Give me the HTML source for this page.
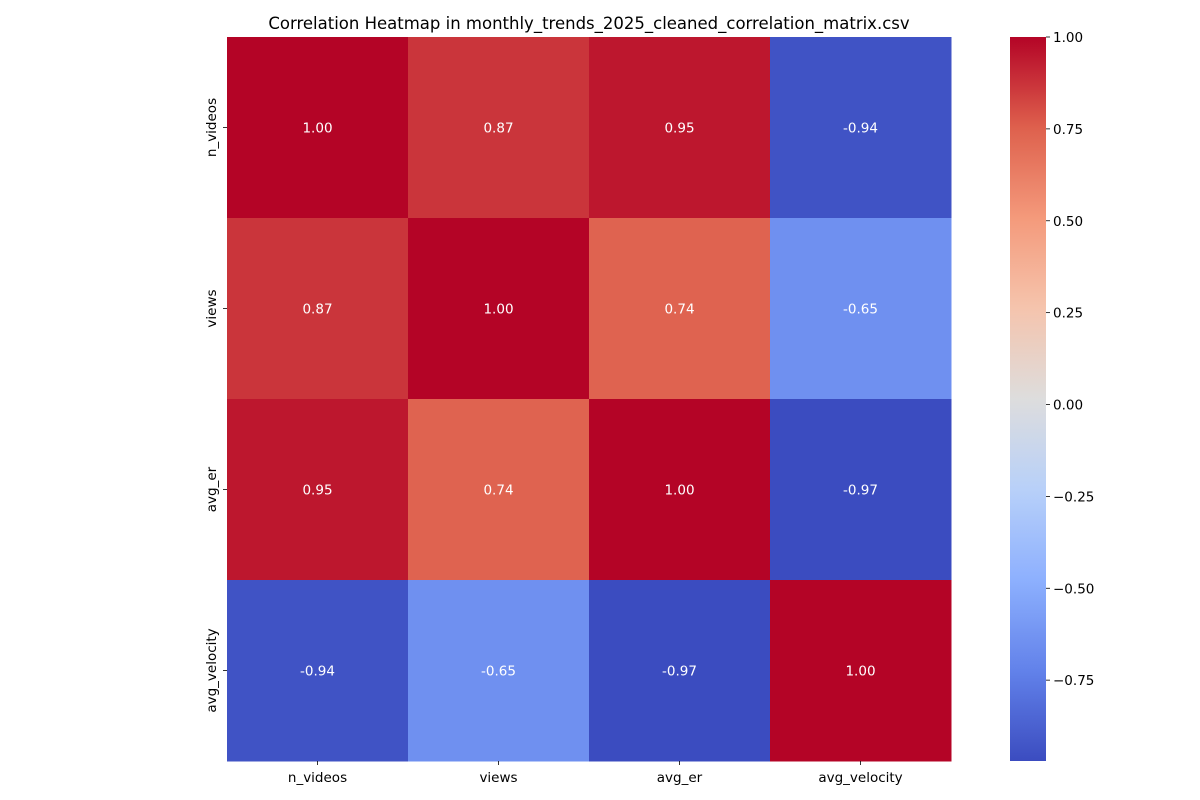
<!DOCTYPE html>
<html><head><meta charset="utf-8">
<style>
html,body{margin:0;padding:0;background:#fff;}
svg{display:block;font-family:"DejaVu Sans","Liberation Sans",sans-serif;}
</style></head>
<body>
<svg id="chart" width="1200" height="800">
<defs><linearGradient id="cbgrad" x1="0" y1="1" x2="0" y2="0"></linearGradient></defs>
<text x="589" y="29" text-anchor="middle" font-size="16.5" fill="#000">Correlation Heatmap in monthly_trends_2025_cleaned_correlation_matrix.csv</text>
<g id="cells"></g>
<g id="xaxis"></g>
<g id="yaxis"></g>
<g id="colorbar"></g>
</svg>
<script>
const labels = ["n_videos","views","avg_er","avg_velocity"];
const row0 = [1.00, 0.87, 0.95, -0.94];
const row1 = [0.87, 1.00, 0.74, -0.65];
const row2 = [0.95, 0.74, 1.00, -0.97];
const row3 = [-0.94, -0.65, -0.97, 1.00];
const matrix = [row0,row1,row2,row3];
const cbTicks = [1.00,0.75,0.50,0.25,0.00,-0.25,-0.50,-0.75];

const NS="http://www.w3.org/2000/svg";
const svg=document.getElementById('chart');
const X0=227,Y0=37,W=724,H=724;
const n=labels.length, cw=W/n, ch=H/n;
const flat=matrix.flat();
const vmin=Math.min(...flat), vmax=Math.max(...flat);
const anchors=[[59,76,192],[98,130,234],[141,176,254],[184,208,249],[221,221,221],[245,196,173],[244,154,123],[222,96,77],[180,4,38]];
function cmap(t){t=Math.max(0,Math.min(1,t));const p=t*8,i=Math.min(7,Math.floor(p)),f=p-i;const a=anchors[i],b=anchors[i+1];
 return 'rgb('+a.map((v,k)=>Math.round(v+(b[k]-v)*f)).join(',')+')';}
function norm(v){return (v-vmin)/(vmax-vmin);}
function mk(tag,attrs,parent){const e=document.createElementNS(NS,tag);for(const k in attrs)e.setAttribute(k,attrs[k]);parent.appendChild(e);return e;}

const cells=document.getElementById('cells');
matrix.forEach((row,r)=>row.forEach((v,c)=>{
  const rect=mk('rect',{x:X0+c*cw,y:Y0+r*ch,width:cw+0.5,height:ch+0.5,fill:cmap(norm(v))},cells);
  
  
  const t=mk('text',{x:X0+(c+0.5)*cw,y:Y0+(r+0.5)*ch+5,'text-anchor':'middle','font-size':'13.5',fill:'#fff'},cells);
  t.textContent=v.toFixed(2);
  
  
}));
const xa=document.getElementById('xaxis'), ya=document.getElementById('yaxis');
labels.forEach((l,i)=>{
  const cx=X0+(i+0.5)*cw;
  mk('line',{x1:cx,x2:cx,y1:Y0+H,y2:Y0+H+4,stroke:'#000','stroke-width':0.8},xa);
  const t=mk('text',{x:cx,y:Y0+H+21,'text-anchor':'middle','font-size':'13.5',fill:'#000'},xa);
  t.textContent=l;
  
  
  const cy=Y0+(i+0.5)*ch;
  mk('line',{x1:X0-4,x2:X0,y1:cy,y2:cy,stroke:'#000','stroke-width':0.8},ya);
  const ty=mk('text',{x:0,y:0,'text-anchor':'middle','font-size':'13.5',fill:'#000',transform:'translate('+(X0-11)+','+cy+') rotate(-90)'},ya);
  ty.textContent=l;
  
  
});
// colorbar
const CX=1010,CW=36;
const grad=document.getElementById('cbgrad');
for(let i=0;i<=40;i++){mk('stop',{offset:(i/40),'stop-color':cmap(i/40)},grad);}
const cb=document.getElementById('colorbar');
const cbr=mk('rect',{x:CX,y:Y0,width:CW,height:H,fill:'url(#cbgrad)'},cb);


function cy(v){return Y0+H-(v-vmin)/(vmax-vmin)*H;}
cbTicks.forEach(v=>{
  const y=cy(v);
  mk('line',{x1:CX+CW,x2:CX+CW+4,y1:y,y2:y,stroke:'#000','stroke-width':0.8},cb);
  const t=mk('text',{x:CX+CW+7,y:y+5,'font-size':'13.5',fill:'#000'},cb);
  t.textContent=(v<0?'\u2212':'')+Math.abs(v).toFixed(2);
  
  
});
</script>
</body></html>
